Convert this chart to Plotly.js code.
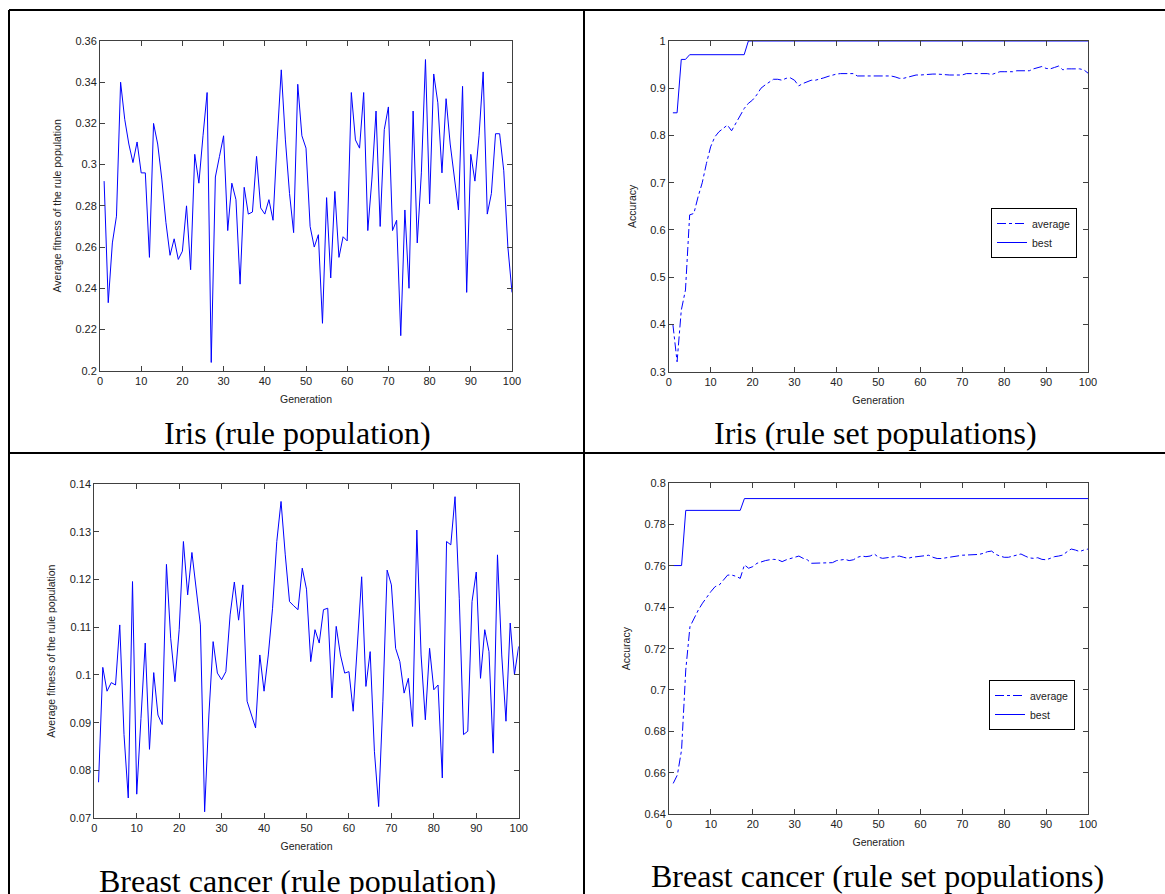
<!DOCTYPE html>
<html>
<head>
<meta charset="utf-8">
<script src="https://cdn.plot.ly/plotly-3.0.1.min.js"></script>
<style>html,body{margin:0;padding:0;background:#fff;}#chart{width:1165px;height:894px;}</style>
</head>
<body>
<div id="chart"></div>
<script>
// ---------- data ----------
const generations = Array.from({length: 100}, (_, i) => i + 1);

const irisRuleFitness = [
  0.292,0.233,0.262,0.275,0.340,0.322,0.310,0.301,0.311,0.296,
  0.296,0.255,0.320,0.310,0.293,0.272,0.256,0.264,0.254,0.258,
  0.280,0.249,0.305,0.291,0.314,0.335,0.204,0.294,0.304,0.314,
  0.268,0.291,0.283,0.242,0.289,0.276,0.277,0.304,0.279,0.276,
  0.283,0.273,0.312,0.346,0.312,0.286,0.267,0.339,0.314,0.308,
  0.270,0.260,0.266,0.223,0.284,0.245,0.287,0.255,0.265,0.263,
  0.335,0.312,0.308,0.335,0.268,0.293,0.326,0.270,0.317,0.328,
  0.268,0.273,0.217,0.278,0.240,0.326,0.262,0.296,0.351,0.281,
  0.344,0.330,0.296,0.332,0.310,0.294,0.278,0.338,0.238,0.305,
  0.292,0.314,0.345,0.276,0.286,0.315,0.315,0.297,0.260,0.238
];

const irisSetAverage = [
  0.400,0.321,0.430,0.473,0.632,0.635,0.670,0.700,0.741,0.776,
  0.797,0.808,0.815,0.822,0.810,0.826,0.843,0.857,0.868,0.875,
  0.886,0.900,0.907,0.914,0.919,0.919,0.917,0.921,0.922,0.917,
  0.905,0.910,0.914,0.917,0.917,0.919,0.922,0.925,0.928,0.930,
  0.931,0.931,0.931,0.931,0.926,0.926,0.926,0.926,0.926,0.926,
  0.926,0.926,0.926,0.924,0.921,0.921,0.923,0.925,0.928,0.928,
  0.929,0.929,0.930,0.930,0.929,0.928,0.928,0.928,0.928,0.928,
  0.931,0.931,0.931,0.931,0.931,0.931,0.929,0.932,0.935,0.935,
  0.935,0.935,0.937,0.937,0.937,0.937,0.941,0.943,0.946,0.942,
  0.941,0.944,0.947,0.939,0.941,0.941,0.941,0.941,0.939,0.932
];

const irisSetBest = [
  0.848,0.848,0.961,0.961,0.971,0.971,0.971,0.971,0.971,0.971,
  0.971,0.971,0.971,0.971,0.971,0.971,0.971,0.971,1,1,
  1,1,1,1,1,1,1,1,1,1,1,1,1,1,1,1,1,1,1,1,
  1,1,1,1,1,1,1,1,1,1,1,1,1,1,1,1,1,1,1,1,
  1,1,1,1,1,1,1,1,1,1,1,1,1,1,1,1,1,1,1,1,
  1,1,1,1,1,1,1,1,1,1,1,1,1,1,1,1,1,1,1,1
];

const cancerRuleFitness = [
  0.0775,0.1016,0.0966,0.0984,0.0979,0.1105,0.0875,0.0742,0.1196,0.0750,
  0.0909,0.1067,0.0844,0.1005,0.0916,0.0896,0.1232,0.1077,0.0986,0.1095,
  0.1280,0.1168,0.1257,0.1175,0.1105,0.0713,0.0916,0.1070,0.1004,0.0990,
  0.1007,0.1126,0.1195,0.1115,0.1189,0.0945,0.0917,0.0889,0.1042,0.0966,
  0.1042,0.1140,0.1280,0.1364,0.1252,0.1154,0.1145,0.1137,0.1224,0.1180,
  0.1028,0.1095,0.1067,0.1137,0.1140,0.0952,0.1102,0.1042,0.1004,0.1007,
  0.0924,0.1067,0.1206,0.0976,0.1049,0.0840,0.0724,0.0945,0.1220,0.1189,
  0.1056,0.1028,0.0962,0.0993,0.0892,0.1304,0.1042,0.0906,0.1056,0.0969,
  0.0979,0.0784,0.1280,0.1273,0.1374,0.1161,0.0875,0.0882,0.1154,0.1216,
  0.0993,0.1095,0.1049,0.0836,0.1252,0.1042,0.0903,0.1109,0.1001,0.1060
];

const cancerSetAverage = [
  0.6548,0.6589,0.6710,0.7097,0.7306,0.7347,0.7387,0.7420,0.7450,0.7476,
  0.7500,0.7508,0.7532,0.7556,0.7556,0.7550,0.7540,0.7605,0.7589,0.7597,
  0.7613,0.7621,0.7626,0.7630,0.7632,0.7630,0.7621,0.7630,0.7637,0.7642,
  0.7648,0.7637,0.7630,0.7613,0.7613,0.7613,0.7613,0.7613,0.7616,0.7626,
  0.7630,0.7632,0.7626,0.7630,0.7642,0.7648,0.7645,0.7648,0.7658,0.7642,
  0.7637,0.7639,0.7642,0.7645,0.7648,0.7642,0.7637,0.7642,0.7645,0.7645,
  0.7648,0.7652,0.7642,0.7636,0.7636,0.7639,0.7642,0.7648,0.7648,0.7652,
  0.7653,0.7653,0.7653,0.7656,0.7661,0.7669,0.7672,0.7656,0.7648,0.7642,
  0.7642,0.7648,0.7655,0.7658,0.7648,0.7639,0.7637,0.7640,0.7632,0.7630,
  0.7637,0.7645,0.7648,0.7653,0.7669,0.7682,0.7677,0.7670,0.7677,0.7682
];

const cancerSetBest = [
  0.7602,0.7602,0.7602,0.7869,0.7869,0.7869,0.7869,0.7869,0.7869,0.7869,
  0.7869,0.7869,0.7869,0.7869,0.7869,0.7869,0.7869,0.7926,0.7926,0.7926,
  0.7926,0.7926,0.7926,0.7926,0.7926,0.7926,0.7926,0.7926,0.7926,0.7926,
  0.7926,0.7926,0.7926,0.7926,0.7926,0.7926,0.7926,0.7926,0.7926,0.7926,
  0.7926,0.7926,0.7926,0.7926,0.7926,0.7926,0.7926,0.7926,0.7926,0.7926,
  0.7926,0.7926,0.7926,0.7926,0.7926,0.7926,0.7926,0.7926,0.7926,0.7926,
  0.7926,0.7926,0.7926,0.7926,0.7926,0.7926,0.7926,0.7926,0.7926,0.7926,
  0.7926,0.7926,0.7926,0.7926,0.7926,0.7926,0.7926,0.7926,0.7926,0.7926,
  0.7926,0.7926,0.7926,0.7926,0.7926,0.7926,0.7926,0.7926,0.7926,0.7926,
  0.7926,0.7926,0.7926,0.7926,0.7926,0.7926,0.7926,0.7926,0.7926,0.7926
];

const captions = [
  "Iris (rule population)",
  "Iris (rule set populations)",
  "Breast cancer (rule population)",
  "Breast cancer (rule set populations)"
];
const xTitle = "Generation";
const fitnessTitle = "Average fitness of the rule population";
const accuracyTitle = "Accuracy";
const seriesNames = ["average", "best"];

// ---------- layout helpers ----------
const W = 1165, H = 894;
const px = v => v / W;
const py = v => 1 - v / H;

const BLUE = "#0000ff";
const AX = "#404040";
const tickFont = {family: "Liberation Sans, Arial, sans-serif", size: 11, color: "#222"};
const titleFont = {family: "Liberation Sans, Arial, sans-serif", size: 10.5, color: "#222"};
const capFont = {family: "Liberation Serif, Times New Roman, serif", size: 32, color: "#000"};

function axisBase(extra) {
  return Object.assign({
    showline: true, linecolor: AX, linewidth: 1, mirror: "ticks",
    ticks: "inside", ticklen: 5, tickcolor: AX, tickwidth: 1,
    showgrid: false, zeroline: false, tickfont: tickFont, fixedrange: true
  }, extra);
}

const traces = [
  {x: generations, y: irisRuleFitness, xaxis: "x", yaxis: "y", mode: "lines",
   line: {color: BLUE, width: 1}, showlegend: false},
  {x: generations, y: irisSetAverage, xaxis: "x2", yaxis: "y2", mode: "lines", name: seriesNames[0],
   line: {color: BLUE, width: 1, dash: "dashdot"}, legend: "legend"},
  {x: generations, y: irisSetBest, xaxis: "x2", yaxis: "y2", mode: "lines", name: seriesNames[1],
   line: {color: BLUE, width: 1}, legend: "legend"},
  {x: generations, y: cancerRuleFitness, xaxis: "x3", yaxis: "y3", mode: "lines",
   line: {color: BLUE, width: 1}, showlegend: false},
  {x: generations, y: cancerSetAverage, xaxis: "x4", yaxis: "y4", mode: "lines", name: seriesNames[0],
   line: {color: BLUE, width: 1, dash: "dashdot"}, legend: "legend2"},
  {x: generations, y: cancerSetBest, xaxis: "x4", yaxis: "y4", mode: "lines", name: seriesNames[1],
   line: {color: BLUE, width: 1}, legend: "legend2"}
];

const xTitleObj = {text: xTitle, font: titleFont, standoff: 9};

const legendStyle = {
  bgcolor: "#fff", bordercolor: "#000", borderwidth: 1,
  font: {family: "Liberation Sans, Arial, sans-serif", size: 10.5, color: "#222"},
  xanchor: "left", yanchor: "top", tracegroupgap: 0, itemwidth: 30
};

const layout = {
  width: W, height: H,
  margin: {l: 0, r: 0, t: 0, b: 0},
  paper_bgcolor: "#fff", plot_bgcolor: "#fff",
  showlegend: true,
  xaxis: axisBase({domain: [px(100), px(512)], anchor: "y", range: [0, 100], dtick: 10, title: xTitleObj}),
  yaxis: axisBase({domain: [py(370.7), py(41)], anchor: "x", range: [0.2, 0.36], dtick: 0.02,
    title: {text: fitnessTitle, font: titleFont, standoff: 11}}),
  xaxis2: axisBase({domain: [px(668.7), px(1088)], anchor: "y2", range: [0, 100], dtick: 10, title: xTitleObj}),
  yaxis2: axisBase({domain: [py(371.7), py(41)], anchor: "x2", range: [0.3, 1], dtick: 0.1,
    title: {text: accuracyTitle, font: titleFont, standoff: 11}}),
  xaxis3: axisBase({domain: [px(94.3), px(518.7)], anchor: "y3", range: [0, 100], dtick: 10, title: xTitleObj}),
  yaxis3: axisBase({domain: [py(818), py(484.3)], anchor: "x3", range: [0.07, 0.14], dtick: 0.01,
    title: {text: fitnessTitle, font: titleFont, standoff: 11}}),
  xaxis4: axisBase({domain: [px(669), px(1088)], anchor: "y4", range: [0, 100], dtick: 10, title: xTitleObj}),
  yaxis4: axisBase({domain: [py(814), py(483.3)], anchor: "x4", range: [0.64, 0.8], dtick: 0.02,
    title: {text: accuracyTitle, font: titleFont, standoff: 11}}),
  legend: Object.assign({x: px(991), y: py(208)}, legendStyle),
  legend2: Object.assign({x: px(989), y: py(680)}, legendStyle),
  shapes: [
    {type: "line", xref: "paper", yref: "paper", x0: px(9), x1: px(1170), y0: py(10), y1: py(10), line: {color: "#000", width: 2}},
    {type: "line", xref: "paper", yref: "paper", x0: px(9), x1: px(9), y0: py(10), y1: py(900), line: {color: "#000", width: 2}},
    {type: "line", xref: "paper", yref: "paper", x0: px(584), x1: px(584), y0: py(10), y1: py(900), line: {color: "#000", width: 2}},
    {type: "line", xref: "paper", yref: "paper", x0: px(9), x1: px(1170), y0: py(453), y1: py(453), line: {color: "#000", width: 2}}
  ],
  annotations: [
    {text: captions[0], x: px(297), y: py(433), xref: "paper", yref: "paper", xanchor: "center", yanchor: "middle", showarrow: false, font: capFont},
    {text: captions[1], x: px(875), y: py(433), xref: "paper", yref: "paper", xanchor: "center", yanchor: "middle", showarrow: false, font: capFont},
    {text: captions[2], x: px(297), y: py(881), xref: "paper", yref: "paper", xanchor: "center", yanchor: "middle", showarrow: false, font: capFont},
    {text: captions[3], x: px(877), y: py(876), xref: "paper", yref: "paper", xanchor: "center", yanchor: "middle", showarrow: false, font: capFont}
  ]
};

Plotly.newPlot("chart", traces, layout, {staticPlot: true, displayModeBar: false});
</script>
</body>
</html>
